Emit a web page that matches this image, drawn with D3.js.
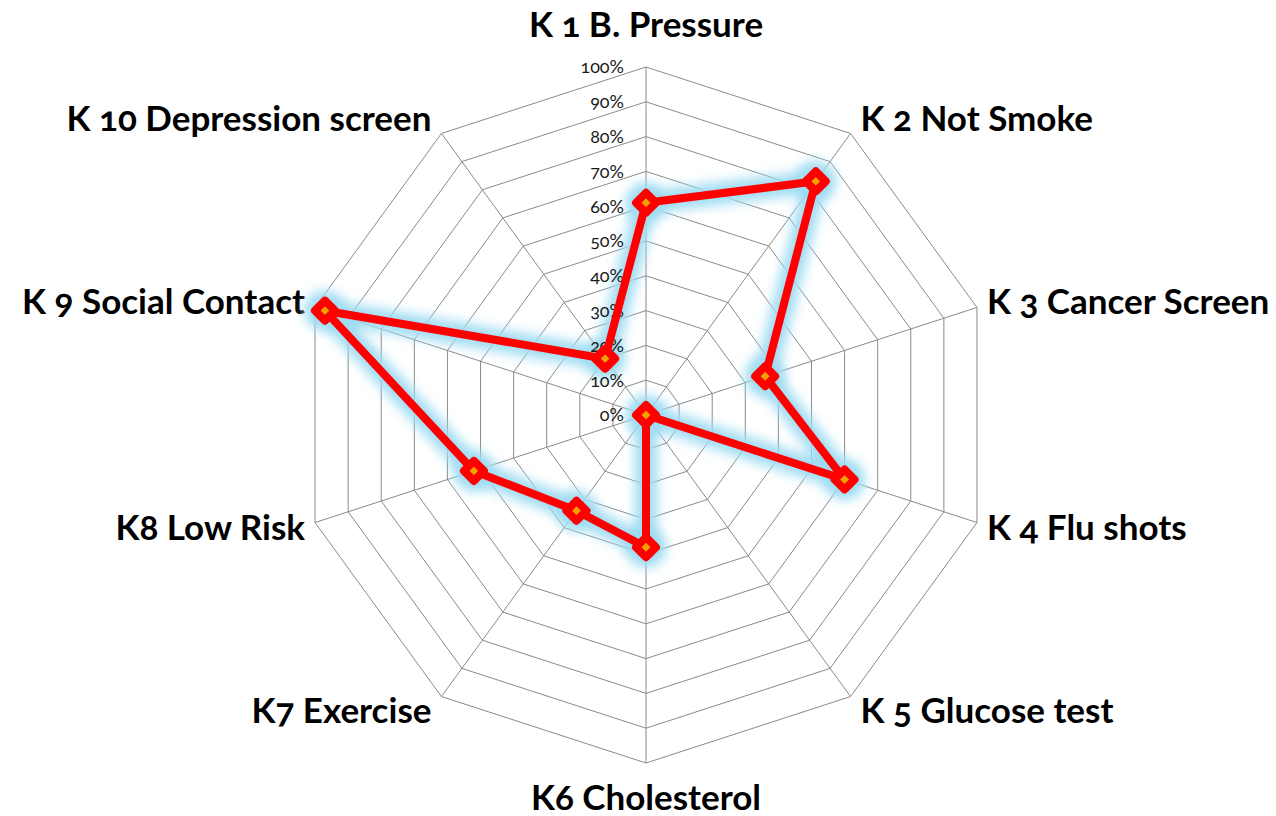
<!DOCTYPE html>
<html>
<head>
<meta charset="utf-8">
<script src="https://cdn.jsdelivr.net/npm/d3@7"></script>
<style>
  body { margin: 0; background: #fff; }
  svg text { font-family: Lato, "Open Sans", sans-serif; font-feature-settings: "onum"; }
</style>
</head>
<body>
<div id="vis"></div>
<script>
// chart data
var categories = ["K 1 B. Pressure", "K 2 Not Smoke", "K 3 Cancer Screen", "K 4 Flu shots",
  "K 5 Glucose test", "K6 Cholesterol", "K7 Exercise", "K8 Low Risk",
  "K 9 Social Contact", "K 10 Depression screen"];
var values = [0.61, 0.83, 0.36, 0.60, 0.0, 0.38, 0.34, 0.52, 0.97, 0.20];
var ticks = [0, 0.1, 0.2, 0.3, 0.4, 0.5, 0.6, 0.7, 0.8, 0.9, 1.0];

var width = 1276, height = 816,
  cx = 646, cy = 415, radius = 348;

var svg = d3.select("#vis").append("svg")
  .attr("width", width)
  .attr("height", height);

// glow filter for the series line
var defs = svg.append("defs");
var glow = defs.append("filter").attr("id", "glow")
  .attr("x", "-20%").attr("y", "-20%").attr("width", "140%").attr("height", "140%");
glow.append("feGaussianBlur").attr("stdDeviation", 6);

var g = svg.append("g").attr("transform", "translate(" + cx + "," + cy + ")");

var r = d3.scaleLinear().domain([0, 1]).range([0, radius]);
var angle = d3.scaleLinear().domain([0, categories.length]).range([0, 2 * Math.PI]);

function point(i, v) {
  var a = angle(i);
  return [r(v) * Math.sin(a), -r(v) * Math.cos(a)];
}

// grid rings
g.selectAll(".ring")
  .data(ticks.slice(1))
  .enter().append("polygon")
  .attr("points", function(t) {
    return categories.map(function(c, i) { return point(i, t).join(","); }).join(" ");
  })
  .style("fill", "none")
  .style("stroke", "#8a8a8a")
  .style("stroke-width", 1);

// spokes
g.selectAll(".spoke")
  .data(categories)
  .enter().append("line")
  .attr("x1", 0).attr("y1", 0)
  .attr("x2", function(d, i) { return point(i, 1)[0]; })
  .attr("y2", function(d, i) { return point(i, 1)[1]; })
  .style("stroke", "#8a8a8a")
  .style("stroke-width", 1);

// axis labels
g.selectAll(".label")
  .data(categories)
  .enter().append("text")
  .attr("x", function(d, i) {
    var s = Math.sin(angle(i)), p = point(i, 1);
    return p[0] + (Math.abs(s) < 0.01 ? 0 : (s > 0 ? 10 : -10));
  })
  .attr("y", function(d, i) {
    var c = Math.cos(angle(i)), p = point(i, 1);
    if (Math.abs(Math.sin(angle(i))) < 0.01) return p[1] + (c > 0 ? -42 : 35);
    return p[1] - c * 18;
  })
  .attr("dy", "0.35em")
  .style("text-anchor", function(d, i) {
    var s = Math.sin(angle(i));
    return Math.abs(s) < 0.01 ? "middle" : (s > 0 ? "start" : "end");
  })
  .style("font-size", "35px")
  .style("font-weight", "bold")
  .style("fill", "#000")
  .text(function(d) { return d; });

// series
var line = d3.line().curve(d3.curveLinearClosed);
var pts = values.map(function(v, i) { return point(i, v); });

g.append("path")
  .attr("d", line(pts))
  .style("fill", "none")
  .style("stroke", "#9edcf2")
  .style("stroke-width", 22)
  .style("stroke-linejoin", "round")
  .attr("filter", "url(#glow)");

g.selectAll(".glowDot")
  .data(pts)
  .enter().append("circle")
  .attr("cx", function(d) { return d[0]; })
  .attr("cy", function(d) { return d[1]; })
  .attr("r", 20)
  .style("fill", "#9edcf2")
  .attr("filter", "url(#glow)");

// tick labels along top spoke (above the glow, below the line)
g.selectAll(".tick")
  .data(ticks)
  .enter().append("text")
  .attr("x", -22)
  .attr("y", function(t) { return -r(t); })
  .attr("dy", "0.35em")
  .style("text-anchor", "end")
  .style("font-size", "18px")
  .style("fill", "#1a1a1a")
  .text(function(t) { return Math.round(t * 100) + "%"; });

g.append("path")
  .attr("d", line(pts))
  .style("fill", "none")
  .style("stroke", "#ff0000")
  .style("stroke-width", 8)
  .style("stroke-linejoin", "round");

g.selectAll(".marker")
  .data(pts)
  .enter().append("path")
  .attr("d", "M0,-10L10,0L0,10L-10,0Z")
  .attr("transform", function(d) { return "translate(" + d[0] + "," + d[1] + ")"; })
  .style("fill", "#f2a200")
  .style("stroke", "#ff0000")
  .style("stroke-width", 8)
  .style("stroke-linejoin", "round");
</script>
</body>
</html>
